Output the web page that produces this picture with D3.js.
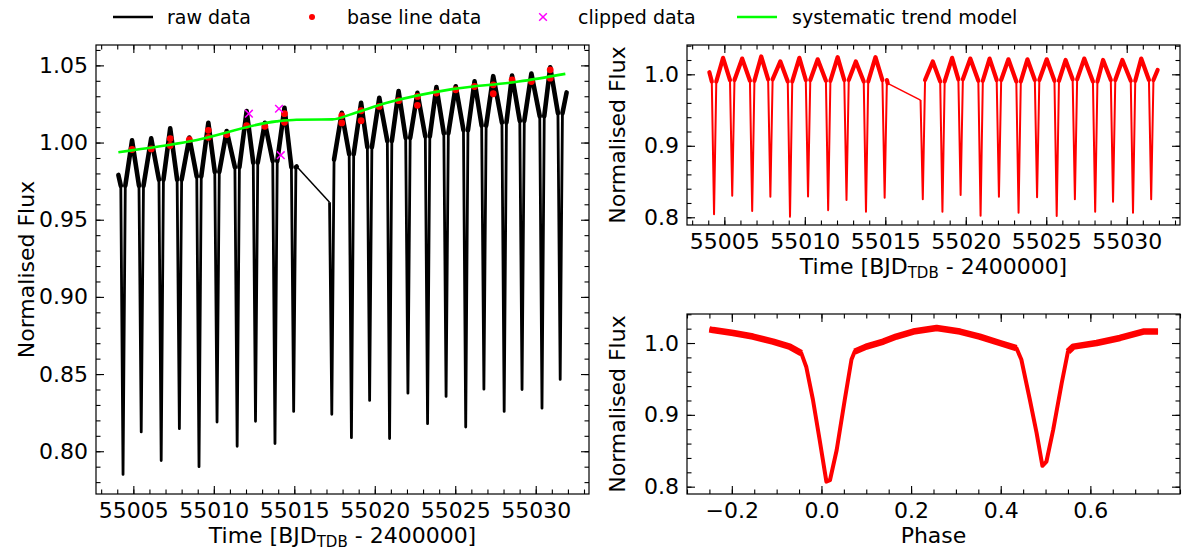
<!DOCTYPE html>
<html>
<head>
<meta charset="utf-8">
<script src="https://cdn.jsdelivr.net/npm/d3@7"></script>
<style>
body { margin: 0; background: #fff; }
svg text { font-family: "DejaVu Sans", sans-serif; }
</style>
</head>
<body>
<svg id="chart" width="1192" height="551"></svg>
<script>
// ---- data ----
// times of the eclipse minima (BJD_TDB - 2400000)
var eclipseTime = [55004.36, 55005.49, 55006.73, 55007.86, 55009.08, 55010.20, 55011.45, 55012.59, 55013.80, 55014.96,
                   55017.33, 55018.55, 55019.68, 55020.92, 55022.06, 55023.28, 55024.43, 55025.65, 55026.78, 55028.04,
                   55029.15, 55030.39, 55031.52];
var eclipseHalfWidth = 0.14;
// raw flux at minimum / at eclipse edges
var rawMin = [0.785, 0.8125, 0.794, 0.8146, 0.790, 0.8189, 0.8032, 0.8194, 0.805, 0.8258,
              0.8239, 0.8088, 0.8329, 0.8082, 0.8376, 0.8179, 0.8355, 0.8157, 0.8402, 0.8258,
              0.8400, 0.8279, 0.8465];
var rawEdge = [0.972, 0.972, 0.976, 0.976, 0.978, 0.981, 0.984, 0.987, 0.988, 0.984,
               0.989, 0.9925, 0.997, 1.001, 1.003, 1.004, 1.006, 1.008, 1.011, 1.013,
               1.014, 1.017, 1.019];
// maxima between eclipses
var humpTime = [55004.92, 55006.11, 55007.29, 55008.48, 55009.66, 55010.80, 55012.04, 55013.17, 55014.39,
                55017.95, 55019.15, 55020.28, 55021.48, 55022.65, 55023.83, 55025.03, 55026.20, 55027.36,
                55028.53, 55029.73, 55030.90];
var rawPeak = [1.0014, 1.0027, 1.0092, 1.0032, 1.0128, 1.0075, 1.0204, 1.0128, 1.0225,
               1.0193, 1.0257, 1.0290, 1.0333, 1.0322, 1.0359, 1.0365, 1.0397, 1.0430, 1.0434,
               1.0447, 1.0488];
var dataSpan = [55004.07, 55031.92];
var gapTime = [55015.15, 55017.19];
var rawEnds = [0.979, 1.0325];
var rawGap = [0.9845, 0.9613];

// detrended light curve (top right)
var detMin = [0.8042, 0.830, 0.8088, 0.8288, 0.8009, 0.829, 0.810, 0.8242, 0.8078, 0.8274,
              0.8252, 0.8078, 0.8312, 0.8022, 0.8288, 0.8064, 0.828, 0.8018, 0.8252, 0.8078,
              0.8218, 0.8064, 0.8252];
var detEdge = [0.990, 0.992, 0.991, 0.993, 0.990, 0.992, 0.991, 0.992, 0.990, 0.992,
               0.992, 0.990, 0.993, 0.991, 0.992, 0.990, 0.992, 0.991, 0.993, 0.990,
               0.992, 0.991, 0.992];
var detPeak = [1.023, 1.022, 1.025, 1.018, 1.023, 1.021, 1.024, 1.018, 1.024,
               1.018, 1.023, 1.022, 1.022, 1.021, 1.021, 1.021, 1.020, 1.022, 1.020,
               1.020, 1.022];
var detEnds = [1.003, 1.006];
var detGap = [0.9874, 0.964];

// base line points and clipped points
var baseTime = [55004.92, 55006.11, 55007.29, 55007.29, 55008.48, 55009.66, 55009.66, 55010.80, 55012.04, 55013.17,
                55014.39, 55014.39, 55017.95, 55017.95, 55019.15, 55019.15, 55020.28, 55021.48, 55022.65, 55022.65,
                55023.83, 55025.03, 55026.20, 55027.36, 55027.36, 55028.53, 55029.73, 55030.90, 55030.90];
var baseFlux = [0.9955, 0.9959, 1.0026, 0.9981, 1.0019, 1.0079, 1.0034, 1.0052, 1.0110, 1.0105,
                1.0187, 1.0131, 1.0174, 1.0127, 1.0206, 1.0142, 1.0234, 1.0271, 1.0299, 1.0241,
                1.0321, 1.0342, 1.0363, 1.0374, 1.0316, 1.0406, 1.0395, 1.0471, 1.0417];
var clipTime = [55012.18, 55014.05, 55014.16];
var clipFlux = [1.0187, 1.0219, 0.9918];

// systematic trend model
var trendTime = [55004.07, 55008.53, 55013.89, 55015.13, 55017.37, 55018.63, 55020.70, 55024.82, 55028.94, 55031.84];
var trendFlux = [0.9937, 1.0008, 1.0137, 1.0148, 1.0150, 1.0187, 1.0256, 1.0346, 1.0395, 1.0445];

// phase folded curve
var phase = [-0.25, -0.242, -0.197, -0.153, -0.108, -0.071, -0.045, -0.034, -0.019, -0.004,
             0.011, 0.019, 0.034, 0.052, 0.067, 0.074, 0.100, 0.138, 0.167, 0.205,
             0.257, 0.309, 0.353, 0.398, 0.435, 0.446, 0.465, 0.480, 0.493, 0.502,
             0.517, 0.536, 0.550, 0.562, 0.614, 0.666, 0.718, 0.751];
var phaseFlux = [1.019, 1.018, 1.014, 1.009, 1.002, 0.995, 0.986, 0.967, 0.921, 0.865,
                 0.807, 0.809, 0.851, 0.921, 0.977, 0.988, 0.995, 1.002, 1.009, 1.016,
                 1.021, 1.016, 1.009, 1.000, 0.993, 0.977, 0.921, 0.875, 0.829, 0.835,
                 0.879, 0.944, 0.988, 0.995, 1.000, 1.007, 1.016, 1.016];

// tick values
var timeMajor = [55005, 55010, 55015, 55020, 55025, 55030];
var timeMinor = d3.range(55003, 55034, 1);
var leftFluxMajor = [0.80, 0.85, 0.90, 0.95, 1.00, 1.05];
var leftFluxMinor = d3.range(0.78, 1.065, 0.01);
var rightFluxMajor = [0.8, 0.9, 1.0];
var rightFluxMinor = d3.range(0.80, 1.045, 0.02);
var phaseMajor = [-0.2, 0.0, 0.2, 0.4, 0.6];
var phaseMinor = d3.range(-0.3, 0.81, 0.05);

var legendItems = ['raw data', 'base line data', 'clipped data', 'systematic trend model'];

var svg = d3.select('#chart');
var fontSize = 22;

// builds the light curve from the minima / edges / maxima, split at the data gap
function buildSeries(minF, edgeF, peakF, endsF, gapF) {
        var pts = [{t: dataSpan[0], f: endsF[0]}];
        eclipseTime.forEach(function (T, i) {
                [T - eclipseHalfWidth, T + eclipseHalfWidth].forEach(function (t) {
                        if (t > gapTime[0] - 0.02 && t < gapTime[1] + 0.02) return;
                        pts.push({t: t, f: edgeF[i]});
                });
                pts.push({t: T, f: minF[i]});
        });
        humpTime.forEach(function (t, i) { pts.push({t: t, f: peakF[i]}); });
        pts.push({t: gapTime[0], f: gapF[0]}, {t: gapTime[1], f: gapF[1]});
        pts.push({t: dataSpan[1], f: endsF[1]});
        pts.sort(function (a, b) { return a.t - b.t; });
        return [pts.filter(function (p) { return p.t <= gapTime[0]; }),
                pts.filter(function (p) { return p.t >= gapTime[1]; })];
}

// out-of-eclipse pieces (noisy, drawn thicker)
function humps(seg) {
        var out = [], cur = [];
        seg.forEach(function (p) {
                var inEclipse = eclipseTime.some(function (T) { return Math.abs(p.t - T) < eclipseHalfWidth - 0.001; });
                if (inEclipse) {
                        if (cur.length > 1) out.push(cur);
                        cur = [];
                } else {
                        cur.push(p);
                }
        });
        if (cur.length > 1) out.push(cur);
        return out;
}

function makePanel(p) {
        var x = d3.scaleLinear().domain(p.xDomain).range([p.left, p.right]);
        var y = d3.scaleLinear().domain(p.yDomain).range([p.bottom, p.top]);
        var g = svg.append('g');

        function ticks(axis, tr, vals, size, fmt) {
                var a = g.append('g').attr('transform', tr)
                        .call(axis.tickValues(vals).tickSize(size).tickPadding(8).tickFormat(fmt));
                a.select('.domain').remove();
                a.attr('font-size', fontSize).attr('font-family', '"DejaVu Sans", sans-serif');
                a.selectAll('line').attr('stroke', '#000').attr('stroke-width', 1.1);
                return a;
        }
        var none = function () { return ''; };
        var xMinor = p.xMinor.filter(function (v) { return v >= p.xDomain[0] && v <= p.xDomain[1]; });
        var yMinor = p.yMinor.filter(function (v) { return v >= p.yDomain[0] && v <= p.yDomain[1]; });
        ticks(d3.axisBottom(x), 'translate(0,' + p.bottom + ')', p.xMajor, -8, p.xFormat);
        ticks(d3.axisBottom(x), 'translate(0,' + p.bottom + ')', xMinor, -4.5, none);
        ticks(d3.axisTop(x), 'translate(0,' + p.top + ')', p.xMajor, -8, none);
        ticks(d3.axisTop(x), 'translate(0,' + p.top + ')', xMinor, -4.5, none);
        ticks(d3.axisLeft(y), 'translate(' + p.left + ',0)', p.yMajor, -8, p.yFormat);
        ticks(d3.axisLeft(y), 'translate(' + p.left + ',0)', yMinor, -4.5, none);
        ticks(d3.axisRight(y), 'translate(' + p.right + ',0)', p.yMajor, -8, none);
        ticks(d3.axisRight(y), 'translate(' + p.right + ',0)', yMinor, -4.5, none);

        g.append('rect')
                .attr('x', p.left).attr('y', p.top)
                .attr('width', p.right - p.left).attr('height', p.bottom - p.top)
                .attr('fill', 'none').attr('stroke', '#000').attr('stroke-width', 1.2);

        // y label
        g.append('text')
                .attr('transform', 'translate(' + (p.left - 62) + ',' + ((p.top + p.bottom) / 2) + ') rotate(-90)')
                .attr('text-anchor', 'middle')
                .attr('font-size', fontSize)
                .text('Normalised Flux');
        // x label
        var xl = g.append('text')
                .attr('x', (p.left + p.right) / 2)
                .attr('y', p.bottom + 49)
                .attr('text-anchor', 'middle')
                .attr('font-size', fontSize);
        if (p.xLabel === 'time') {
                xl.append('tspan').text('Time [BJD');
                xl.append('tspan').attr('font-size', 15).attr('dy', 4).text('TDB');
                xl.append('tspan').attr('dy', -4).text(' - 2400000]');
        } else {
                xl.text(p.xLabel);
        }
        return {g: g, x: x, y: y};
}

function drawCurve(panel, seg, color, thin, thick) {
        var line = d3.line().x(function (d) { return panel.x(d.t); }).y(function (d) { return panel.y(d.f); });
        seg.forEach(function (s) {
                panel.g.append('path').datum(s)
                        .attr('fill', 'none').attr('stroke', color).attr('stroke-width', thin)
                        .attr('stroke-linejoin', 'round').attr('d', line);
                humps(s).forEach(function (h) {
                        panel.g.append('path').datum(h)
                                .attr('fill', 'none').attr('stroke', color).attr('stroke-width', thick)
                                .attr('stroke-linejoin', 'round').attr('stroke-linecap', 'round').attr('d', line);
                });
        });
        panel.g.append('path')
                .datum([seg[0][seg[0].length - 1], seg[1][0]])
                .attr('fill', 'none').attr('stroke', color).attr('stroke-width', 1.5).attr('d', line);
}

var timeDomain = [55002.68, 55033.31];

// ---- left panel: raw data ----
var left = makePanel({
        left: 96, right: 589, top: 45, bottom: 494,
        xDomain: timeDomain, yDomain: [0.7723, 1.0632],
        xMajor: timeMajor, xMinor: timeMinor, yMajor: leftFluxMajor, yMinor: leftFluxMinor,
        xFormat: d3.format('d'), yFormat: d3.format('.2f'), xLabel: 'time'
});
drawCurve(left, buildSeries(rawMin, rawEdge, rawPeak, rawEnds, rawGap), '#000', 2.8, 4.6);

left.g.selectAll('circle.base').data(baseTime).enter().append('circle')
        .attr('class', 'base')
        .attr('cx', function (d) { return left.x(d); })
        .attr('cy', function (d, i) { return left.y(baseFlux[i]); })
        .attr('r', 3.4).attr('fill', '#ff0000');

var cross = d3.symbol().type(d3.symbolX).size(40);
left.g.selectAll('path.clip').data(clipTime).enter().append('path')
        .attr('class', 'clip')
        .attr('transform', function (d, i) { return 'translate(' + left.x(d) + ',' + left.y(clipFlux[i]) + ')'; })
        .attr('d', cross).attr('fill', 'none').attr('stroke', '#ff00ff').attr('stroke-width', 1.5);

left.g.append('path')
        .datum(trendTime.map(function (t, i) { return {t: t, f: trendFlux[i]}; }))
        .attr('fill', 'none').attr('stroke', '#00ff00').attr('stroke-width', 2.6)
        .attr('d', d3.line().curve(d3.curveMonotoneX)
                .x(function (d) { return left.x(d.t); }).y(function (d) { return left.y(d.f); }));

// ---- top right: detrended ----
var tr = makePanel({
        left: 687, right: 1180, top: 45, bottom: 225,
        xDomain: timeDomain, yDomain: [0.7892, 1.041],
        xMajor: timeMajor, xMinor: timeMinor, yMajor: rightFluxMajor, yMinor: rightFluxMinor,
        xFormat: d3.format('d'), yFormat: d3.format('.1f'), xLabel: 'time'
});
drawCurve(tr, buildSeries(detMin, detEdge, detPeak, detEnds, detGap), '#ff0000', 2, 4.2);

// ---- bottom right: phase folded ----
var br = makePanel({
        left: 687, right: 1180, top: 314, bottom: 494,
        xDomain: [-0.3, 0.8], yDomain: [0.7898, 1.0404],
        xMajor: phaseMajor, xMinor: phaseMinor, yMajor: rightFluxMajor, yMinor: rightFluxMinor,
        xFormat: d3.format('.1f'), yFormat: d3.format('.1f'), xLabel: 'Phase'
});
var phasePts = phase.map(function (p, i) { return {p: p, f: phaseFlux[i]}; });
var phaseLine = d3.line().x(function (d) { return br.x(d.p); }).y(function (d) { return br.y(d.f); });
br.g.append('path').datum(phasePts)
        .attr('fill', 'none').attr('stroke', '#ff0000').attr('stroke-width', 4)
        .attr('stroke-linejoin', 'round').attr('d', phaseLine);
br.g.append('path').datum(phasePts)
        .attr('fill', 'none').attr('stroke', '#ff0000').attr('stroke-width', 6.5)
        .attr('stroke-linejoin', 'round')
        .attr('d', phaseLine.defined(function (d) { return d.f >= 0.985; }));

// ---- legend ----
var lg = svg.append('g').attr('font-size', 19);
var legY = 17;
lg.append('line').attr('x1', 113).attr('x2', 153).attr('y1', legY).attr('y2', legY)
        .attr('stroke', '#000').attr('stroke-width', 2.6);
lg.append('circle').attr('cx', 312).attr('cy', legY).attr('r', 3).attr('fill', '#ff0000');
lg.append('path').attr('transform', 'translate(543,' + legY + ')').attr('d', cross)
        .attr('fill', 'none').attr('stroke', '#ff00ff').attr('stroke-width', 1.5);
lg.append('line').attr('x1', 737).attr('x2', 777).attr('y1', legY).attr('y2', legY)
        .attr('stroke', '#00ff00').attr('stroke-width', 2.6);
var legX = [167, 347, 578, 792];
legendItems.forEach(function (s, i) {
        lg.append('text').attr('x', legX[i]).attr('y', legY + 7).text(s);
});
</script>
</body>
</html>
